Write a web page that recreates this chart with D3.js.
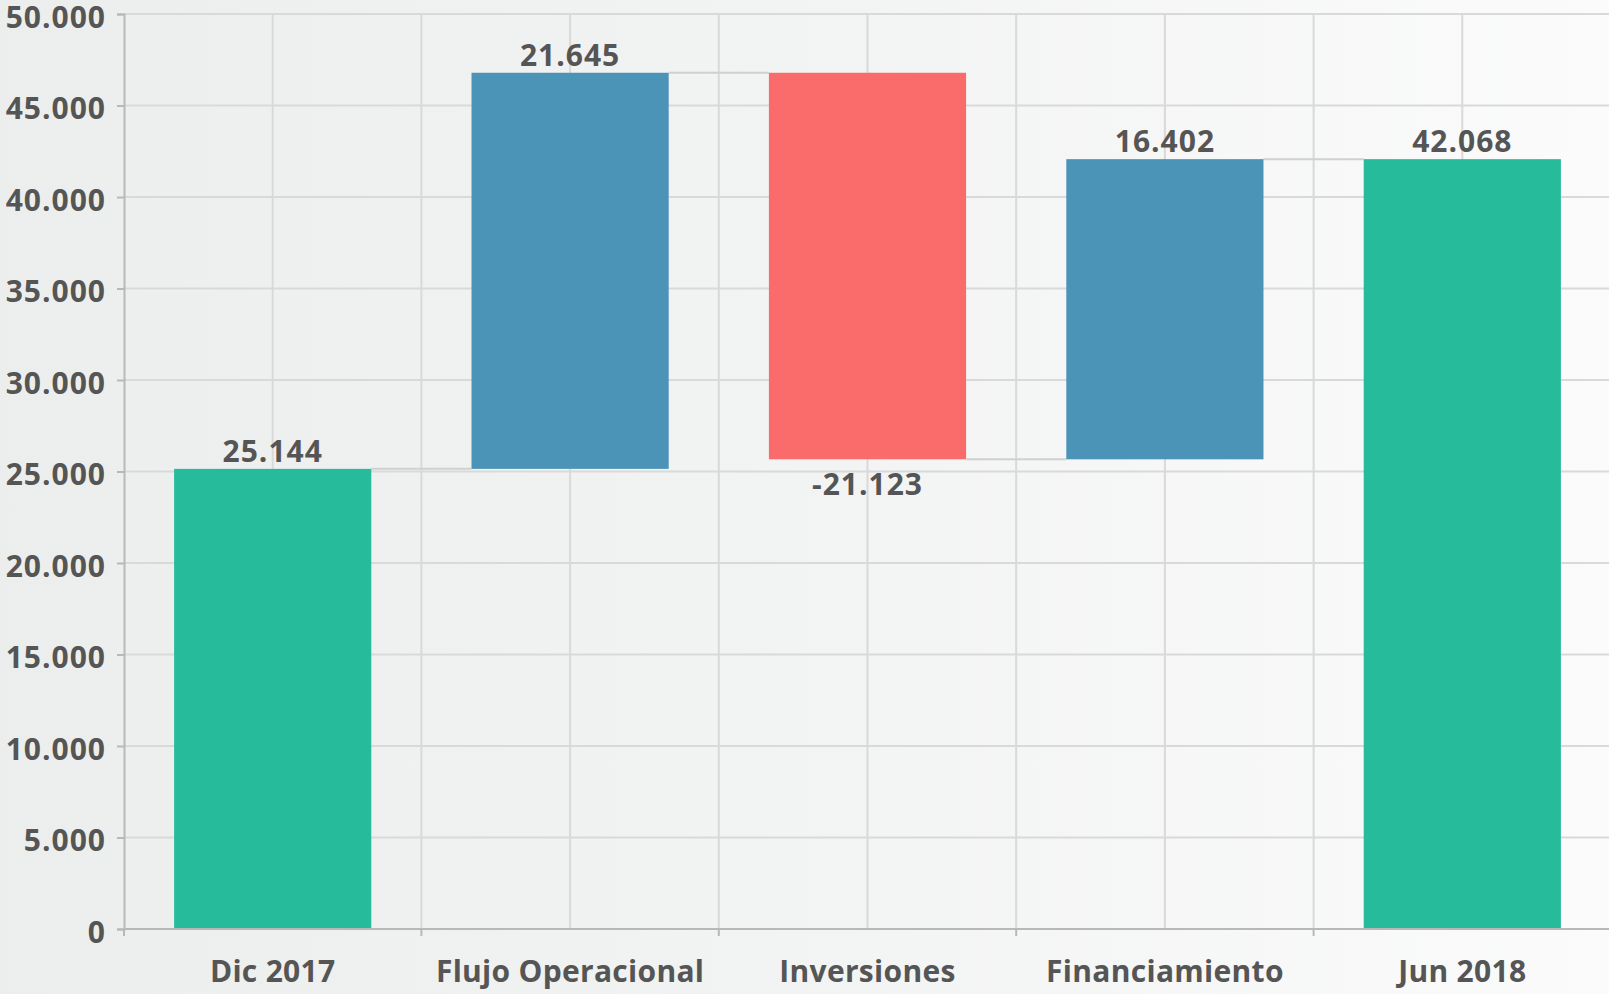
<!DOCTYPE html>
<html>
<head>
<meta charset="utf-8">
<script src="https://cdn.jsdelivr.net/npm/d3@7"></script>
<style>
  html, body { margin: 0; padding: 0; }
  body { width: 1609px; height: 994px; overflow: hidden; }
  svg { display: block; }
  text { font-family: "Open Sans", "Noto Sans", sans-serif; font-weight: 700; fill: #555555; }
</style>
</head>
<body>
<svg id="chart" width="1609" height="994"></svg>
<script>
const categories = ["Dic 2017", "Flujo Operacional", "Inversiones", "Financiamiento", "Jun 2018"];
const changes = [25144, 21645, -21123, 16402, 42068];
const kinds = ["total", "delta", "delta", "delta", "total"];
const labels = ["25.144", "21.645", "-21.123", "16.402", "42.068"];
const yTicks = [0, 5000, 10000, 15000, 20000, 25000, 30000, 35000, 40000, 45000, 50000];

const W = 1609, H = 994;
const margin = { left: 124, right: -2, top: 14, bottom: 65 };
const svg = d3.select("#chart");

const defs = svg.append("defs");
const grad = defs.append("linearGradient").attr("id", "bg").attr("x1", "0").attr("x2", "1").attr("y1", "0").attr("y2", "0");
grad.append("stop").attr("offset", "0").attr("stop-color", "#eceeed");
grad.append("stop").attr("offset", "0.5").attr("stop-color", "#f2f3f3");
grad.append("stop").attr("offset", "1").attr("stop-color", "#fbfbfb");
svg.append("rect").attr("width", W).attr("height", H).attr("fill", "url(#bg)");

// compute waterfall
let running = 0;
const bars = categories.map((c, i) => {
  let y0, y1;
  if (kinds[i] === "total") { y0 = 0; y1 = changes[i]; running = changes[i]; }
  else { y0 = running; y1 = running + changes[i]; running = y1; }
  return { cat: c, y0, y1, v: changes[i], kind: kinds[i], label: labels[i] };
});

const x = d3.scaleBand().domain(categories).range([margin.left, W - margin.right]).paddingInner(0.337).paddingOuter(0.1685);
const xOuter = d3.scaleBand().domain(categories).range([margin.left, W - margin.right]);
const y = d3.scaleLinear().domain([0, 50000]).range([H - margin.bottom, margin.top]);

const g = svg.append("g");

// grid
g.selectAll(".hgrid").data(yTicks).join("line")
  .attr("x1", margin.left).attr("x2", W)
  .attr("y1", d => y(d)).attr("y2", d => y(d))
  .attr("stroke", "#d9d9d9").attr("stroke-width", 2);
const vlines = [];
categories.forEach(c => { vlines.push(xOuter(c)); vlines.push(xOuter(c) + xOuter.bandwidth() / 2); });
g.selectAll(".vgrid").data(vlines.slice(1)).join("line")
  .attr("x1", d => d).attr("x2", d => d)
  .attr("y1", y(50000)).attr("y2", y(0))
  .attr("stroke", "#d9d9d9").attr("stroke-width", 2);

// connectors
const conns = [];
for (let i = 0; i < bars.length - 1; i++) {
  conns.push({ a: bars[i], b: bars[i + 1], v: bars[i].y1 });
}
g.selectAll(".conn").data(conns).join("line")
  .attr("x1", d => x(d.a.cat) + x.bandwidth())
  .attr("x2", d => x(d.b.cat))
  .attr("y1", d => y(d.v)).attr("y2", d => y(d.v))
  .attr("stroke", "#d0d0d0").attr("stroke-width", 2);

const color = d => d.kind === "total" ? "#26bb9b" : (d.v >= 0 ? "#4c93b8" : "#fa6c6c");
g.selectAll(".bar").data(bars).join("rect")
  .attr("x", d => x(d.cat)).attr("width", x.bandwidth())
  .attr("y", d => y(Math.max(d.y0, d.y1)))
  .attr("height", d => Math.abs(y(d.y0) - y(d.y1)))
  .attr("fill", color);

// axes
const yAxis = d3.axisLeft(y).tickValues(yTicks).tickSize(7).tickPadding(11)
  .tickFormat(d => d3.format(",")(d).replace(/,/g, "."));
const ya = svg.append("g").attr("transform", `translate(${margin.left},0)`).call(yAxis);
ya.select(".domain").attr("stroke", "#b8b8b8").attr("stroke-width", 2);
ya.selectAll(".tick line").attr("stroke", "#b8b8b8").attr("stroke-width", 2);
ya.selectAll(".tick text").attr("font-size", 30).attr("letter-spacing", 1).attr("fill", "#555555").attr("dy", "0.44em");

const xAxisLine = svg.append("g");
xAxisLine.append("line").attr("x1", margin.left).attr("x2", W).attr("y1", y(0)).attr("y2", y(0))
  .attr("stroke", "#b8b8b8").attr("stroke-width", 2);
xAxisLine.selectAll(".xt").data(categories.map(c => xOuter(c)).concat([W - margin.right])).join("line")
  .attr("x1", d => d).attr("x2", d => d).attr("y1", y(0)).attr("y2", y(0) + 7)
  .attr("stroke", "#b8b8b8").attr("stroke-width", 2);
xAxisLine.selectAll(".xl").data(categories).join("text")
  .attr("x", d => xOuter(d) + xOuter.bandwidth() / 2)
  .attr("y", y(0) + 53)
  .attr("text-anchor", "middle").attr("font-size", 30).attr("letter-spacing", 0.3)
  .text(d => d);

// value labels
g.selectAll(".vl").data(bars).join("text")
  .attr("x", d => x(d.cat) + x.bandwidth() / 2)
  .attr("y", d => d.v >= 0 ? y(Math.max(d.y0, d.y1)) - 7 : y(Math.min(d.y0, d.y1)) + 36)
  .attr("text-anchor", "middle").attr("font-size", 30).attr("letter-spacing", 1)
  .text(d => d.label);
</script>
</body>
</html>
